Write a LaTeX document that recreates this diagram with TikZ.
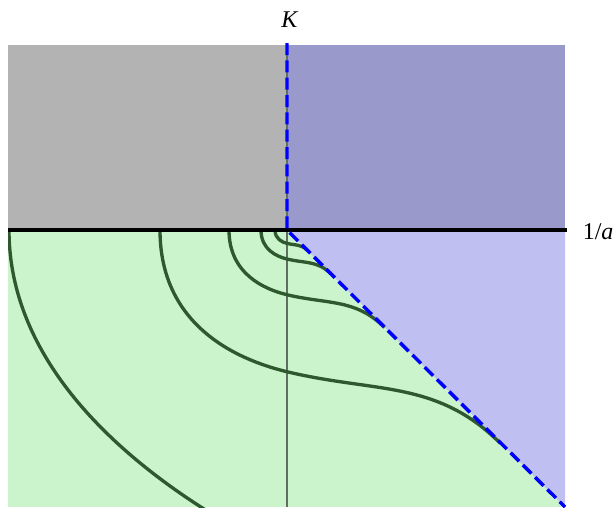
\documentclass[tikz,border=0pt]{standalone}
\usepackage{fontspec}
\setmainfont{Liberation Serif}
\definecolor{grayreg}{RGB}{179,179,179}
\definecolor{purpreg}{RGB}{153,153,204}
\definecolor{lightpurp}{RGB}{191,191,242}
\definecolor{greenreg}{RGB}{204,244,204}
\definecolor{curvegreen}{RGB}{46,88,46}
\definecolor{thinline}{RGB}{95,110,95}
\begin{document}
\begin{tikzpicture}[x=0.75pt,y=-0.75pt,
  contour/.style={line width=2.5pt, draw=curvegreen},
  axisline/.style={line width=2.6pt, draw=black},
  bluedash/.style={line width=2.6pt, draw=blue, dash pattern=on 9pt off 4pt},
  label/.style={font=\fontsize{18}{20}\selectfont, inner sep=0pt}
]
\useasboundingbox (0,0) rectangle (614,507);
\coordinate (O) at (287,230);
\coordinate (Top) at (287,43);
\coordinate (BR) at (565,507);
\coordinate (L) at (8,230);
\coordinate (R) at (567,230);
% regions
\fill[grayreg] (8,45) rectangle (287,230);
\fill[purpreg] (287,45) rectangle (565,230);
\fill[greenreg] (8,230) rectangle (565,507);
\fill[lightpurp] (O) -- (565,230) -- (BR) -- cycle;
% thin vertical line
\draw[thinline, line width=1pt] (287,45) -- (287,507);
% contours
\begin{scope}
\clip (8,45) rectangle (565,507);
\draw[contour] (9,230) .. controls (9,360) and (118,456) .. (212,514);
\foreach \s in {127,58,26,12}{
\draw[contour, shift={(287,230)}, scale=\s] (-1,0) .. controls (-1,0.75) and (-0.4,1.02) .. (0,1.116)
   .. controls (0.7,1.284) and (1.18,1.18) .. (1.68,1.68);
}
\end{scope}
% axis
\draw[axisline] (L) -- (R);
% dashed boundary
\draw[bluedash] (Top) -- (O) -- (BR);
% labels
\node[label, anchor=base] (klab) at (290,27.3) {\textit{K}};
\node[label, anchor=base west] (alab) at (582.5,239) {1/\textit{a}};
\end{tikzpicture}
\end{document}
